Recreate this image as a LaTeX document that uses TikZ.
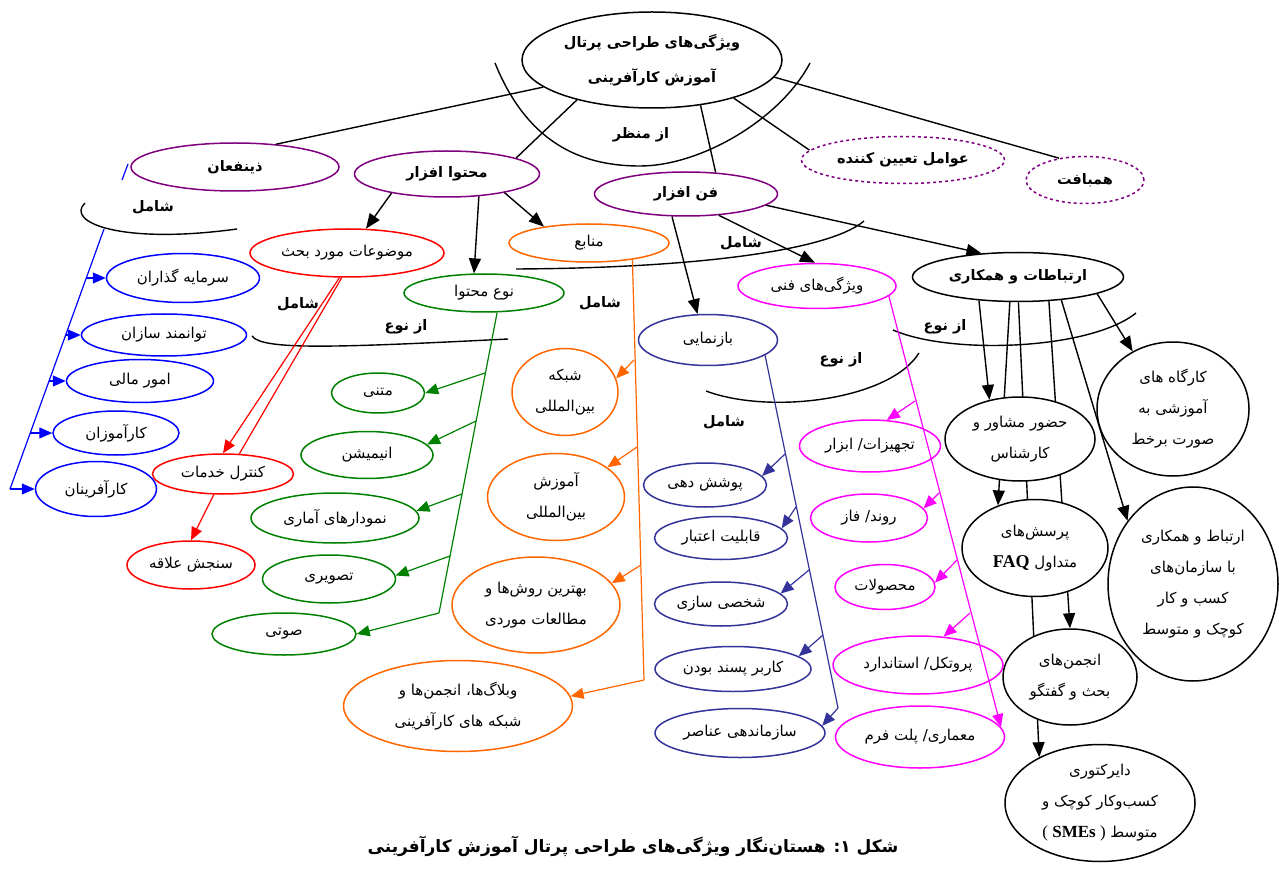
\documentclass[tikz,border=0pt]{standalone}
\usepackage{fontspec}
\setmainfont{Liberation Serif}
\newfontfamily\fafont[Script=Arabic]{DejaVu Sans}
\TeXXeTstate=1
\usetikzlibrary{arrows.meta,shapes.geometric,backgrounds}
\definecolor{purp}{HTML}{800080}
\definecolor{blu}{HTML}{0000FF}
\definecolor{rd}{HTML}{FF0000}
\definecolor{grn}{HTML}{008000}
\definecolor{orng}{HTML}{FF6600}
\definecolor{navy}{HTML}{333399}
\definecolor{mgnt}{HTML}{FF00FF}
\newcommand{\fa}[1]{{\fafont\beginR #1\endR}}
\begin{document}
\begin{tikzpicture}[x=1pt,y=-1pt]
        \tikzset{
            netnode/.style={ellipse,draw=black,line width=1.5pt,fill=white,inner sep=0pt,align=center,font=\fontsize{15}{31}\selectfont},
            boldnode/.style={netnode,font=\bfseries\fontsize{14.5}{35}\selectfont},
            tag/.style={inner sep=1pt,font=\bfseries\fontsize{14.5}{17}\selectfont},
            link/.style={line width=1.4pt},
            bigarrow/.style={link,-{Triangle[length=15pt,width=12pt]}},
            spine/.style={line width=1.2pt},
            smallarrow/.style={spine,-{Triangle[length=13pt,width=11pt]}},
        }
        \useasboundingbox (0,0) rectangle (1279,882);

        \node[boldnode,minimum width=260pt,minimum height=96pt] (root) at (652,60) {\fa{ویژگی‌های طراحی پرتال}\\\fa{آموزش کارآفرینی}};
        \node[boldnode,draw=purp,minimum width=208pt,minimum height=48pt] (zin) at (235,167) {\fa{ذینفعان}};
        \node[boldnode,draw=purp,minimum width=185pt,minimum height=46pt] (moh) at (447,174) {\fa{محتوا افزار}};
        \node[boldnode,draw=purp,minimum width=183pt,minimum height=44pt] (fan) at (686,194) {\fa{فن افزار}};
        \node[boldnode,draw=purp,dashed,minimum width=203pt,minimum height=47pt] (ava) at (903,160) {\fa{عوامل تعیین کننده}};
        \node[boldnode,draw=purp,dashed,minimum width=118pt,minimum height=47pt] (ham) at (1085,180) {\fa{همبافت}};

        \node[netnode,draw=blu,minimum width=153pt,minimum height=49pt] (sar) at (183,278) {\fa{سرمایه گذاران}};
        \node[netnode,draw=blu,minimum width=165pt,minimum height=42pt] (tav) at (164,335) {\fa{توانمند سازان}};
        \node[netnode,draw=blu,minimum width=147pt,minimum height=43pt] (omur) at (140,381) {\fa{امور مالی}};
        \node[netnode,draw=blu,minimum width=126pt,minimum height=44pt] (karamuz) at (116,433) {\fa{کارآموزان}};
        \node[netnode,draw=blu,minimum width=121pt,minimum height=55pt] (karafarin) at (96,489) {\fa{کارآفرینان}};

        \node[netnode,draw=rd,minimum width=194pt,minimum height=48pt] (mowzu) at (347,253) {\fa{موضوعات مورد بحث}};
        \node[netnode,draw=rd,minimum width=141pt,minimum height=40pt] (kontrol) at (223,474) {\fa{کنترل خدمات}};
        \node[netnode,draw=rd,minimum width=128pt,minimum height=48pt] (sanjesh) at (191,565) {\fa{سنجش علاقه}};

        \node[netnode,draw=grn,minimum width=160pt,minimum height=38pt] (now) at (484,293) {\fa{نوع محتوا}};
        \node[netnode,draw=grn,minimum width=93pt,minimum height=40pt] (matni) at (378,393) {\fa{متنی}};
        \node[netnode,draw=grn,minimum width=132pt,minimum height=47pt] (anim) at (367,455) {\fa{انیمیشن}};
        \node[netnode,draw=grn,minimum width=168pt,minimum height=50pt] (nemudar) at (335,518) {\fa{نمودارهای آماری}};
        \node[netnode,draw=grn,minimum width=133pt,minimum height=48pt] (tasviri) at (329,579) {\fa{تصویری}};
        \node[netnode,draw=grn,minimum width=144pt,minimum height=42pt] (souti) at (284,634) {\fa{صوتی}};

        \node[netnode,draw=orng,minimum width=160pt,minimum height=38pt] (manabe) at (589,243) {\fa{منابع}};
        \node[netnode,draw=orng,minimum width=106pt,minimum height=87pt] (shabake) at (565,392) {\fa{شبکه}\\\fa{بین‌المللی}};
        \node[netnode,draw=orng,minimum width=137pt,minimum height=87pt] (amuzesh) at (556,497) {\fa{آموزش}\\\fa{بین‌المللی}};
        \node[netnode,draw=orng,minimum width=168pt,minimum height=96pt] (behtarin) at (536,605) {\fa{بهترین روش‌ها و}\\\fa{مطالعات موردی}};
        \node[netnode,draw=orng,minimum width=229pt,minimum height=91pt] (veblag) at (458,706) {\fa{وبلاگ‌ها\kern0pt، انجمن‌ها و}\\\fa{شبکه های کارآفرینی}};

        \node[netnode,draw=navy,minimum width=139pt,minimum height=51pt] (baz) at (708,340) {\fa{بازنمایی}};
        \node[netnode,draw=navy,minimum width=123pt,minimum height=44pt] (pushesh) at (705,485) {\fa{پوشش دهی}};
        \node[netnode,draw=navy,minimum width=133pt,minimum height=43pt] (ghabel) at (721,538) {\fa{قابلیت اعتبار}};
        \node[netnode,draw=navy,minimum width=133pt,minimum height=44pt] (shakhsi) at (721,604) {\fa{شخصی سازی}};
        \node[netnode,draw=navy,minimum width=156pt,minimum height=45pt] (karbar) at (733,669) {\fa{کاربر پسند بودن}};
        \node[netnode,draw=navy,minimum width=170pt,minimum height=49pt] (sazman) at (740,733) {\fa{سازماندهی عناصر}};

        \node[netnode,draw=mgnt,minimum width=158pt,minimum height=45pt] (vizhegi) at (817,286) {\fa{ویژگی‌های فنی}};
        \node[netnode,draw=mgnt,minimum width=141pt,minimum height=52pt] (tajhiz) at (870,446) {\fa{تجهیزات\kern0pt/ ابزار}};
        \node[netnode,draw=mgnt,minimum width=117pt,minimum height=48pt] (ravand) at (869,518) {\fa{روند\kern0pt/ فاز}};
        \node[netnode,draw=mgnt,minimum width=100pt,minimum height=45pt] (mahsul) at (885,587) {\fa{محصولات}};
        \node[netnode,draw=mgnt,minimum width=170pt,minimum height=58pt] (protokol) at (918,665) {\fa{پروتکل\kern0pt/ استاندارد}};
        \node[netnode,draw=mgnt,minimum width=169pt,minimum height=62pt] (memari) at (920,737) {\fa{معماری\kern0pt/ پلت فرم}};

        \node[boldnode,minimum width=211pt,minimum height=49pt] (ert) at (1018,277) {\fa{ارتباطات و همکاری}};
        \node[netnode,minimum width=150pt,minimum height=84pt] (hozur) at (1020,439) {\fa{حضور مشاور و}\\\fa{کارشناس}};
        \node[netnode,minimum width=146pt,minimum height=97pt] (porsesh) at (1035,548) {\fa{پرسش‌های}\\\fa{متداول \beginL{\rmfamily\bfseries\fontsize{18}{31}\selectfont FAQ}\endL}};
        \node[netnode,minimum width=134pt,minimum height=96pt] (anjoman) at (1070,677) {\fa{انجمن‌های}\\\fa{بحث و گفتگو}};
        \node[netnode,minimum width=190pt,minimum height=117pt] (dir) at (1100,803) {\fa{دایرکتوری}\\\fa{کسب‌وکار کوچک و}\\\fa{متوسط \beginL{\rmfamily\fontsize{17}{31}\selectfont ( {\bfseries SMEs} )}\endL}};
        \node[netnode,minimum width=152pt,minimum height=134pt] (kargah) at (1173,409) {\fa{کارگاه های}\\\fa{آموزشی به}\\\fa{صورت برخط}};
        \node[netnode,minimum width=170pt,minimum height=194pt] (ertebat) at (1193,584) {\fa{ارتباط و همکاری}\\\fa{با سازمان‌های}\\\fa{کسب و کار}\\\fa{کوچک و متوسط}};

        \node[tag] (azmanzar) at (641,135) {\fa{از منظر}};
        \node[tag] (shamel1) at (153,207) {\fa{شامل}};
        \node[tag] (shamel2) at (298,304) {\fa{شامل}};
        \node[tag] (aznoe1) at (406,327) {\fa{از نوع}};
        \node[tag] (shamel3) at (600,303) {\fa{شامل}};
        \node[tag] (shamel4) at (741,243) {\fa{شامل}};
        \node[tag] (aznoe2) at (841,360) {\fa{از نوع}};
        \node[tag] (shamel5) at (724,422) {\fa{شامل}};
        \node[tag] (aznoe3) at (945,327) {\fa{از نوع}};
        \node[tag,font=\bfseries\fontsize{17}{20}\selectfont] (caption) at (633,846) {\fa{شکل ۱\kern0pt: هستان‌نگار ویژگی‌های طراحی پرتال آموزش کارآفرینی}};

        \draw[link] (495,63) .. controls (530,150) and (590,166) .. (640,166) .. controls (700,166) and (780,120) .. (810,63);
        \draw[link] (85,203) .. controls (65,222) and (120,245) .. (237,229);
        \draw[link] (252,336) .. controls (262,350) and (330,348) .. (508,339);
        \draw[link] (516,269) .. controls (700,268) and (830,250) .. (864,221);
        \draw[link] (706,391) .. controls (770,415) and (890,400) .. (919,353);
        \draw[link] (893,330) .. controls (950,355) and (1090,350) .. (1136,313);

        \draw[link] (root.194) -- (zin.29);
        \draw[link] (root.208) -- (moh.13);
        \draw[link] (root.317) -- (fan.36);
        \draw[link] (root.335) -- (ava.174);
        \draw[link] (root.352) -- (ham.140);

        \draw[bigarrow] (moh.199) -- (mowzu.52);
        \draw[bigarrow] (moh.325) -- (now.117);
        \draw[bigarrow] (moh.342) -- (manabe.160);
        \draw[bigarrow] (fan.238) -- (baz.112);
        \draw[bigarrow] (fan.327) -- (vizhegi.95);
        \draw[bigarrow] (fan.352) -- (ert.147);

        \coordinate (btop) at (128,164);
        \coordinate (btopb) at (122,180);
        \coordinate (bsp) at (104,229);
        \coordinate (bl1) at (86,278);
        \coordinate (bl2) at (66,335);
        \coordinate (bl3) at (49,381);
        \coordinate (bl4) at (30,433);
        \coordinate (bl5) at (10,489);
        \draw[spine,blu] (btop) -- (btopb);
        \draw[spine,blu] (bsp) -- (bl5);
        \draw[smallarrow,blu] (bl1) -- (sar.west);
        \draw[smallarrow,blu] (bl2) -- (tav.west);
        \draw[smallarrow,blu] (bl3) -- (omur.west);
        \draw[smallarrow,blu] (bl4) -- (karamuz.west);
        \draw[smallarrow,blu] (bl5) -- (karafarin.west);

        \draw[smallarrow,rd] (mowzu.253) -- (kontrol.north);
        \draw[spine,rd] (mowzu.258) -- (kontrol.51);
        \draw[smallarrow,rd] (kontrol.246) -- (sanjesh.north);

        \coordinate (g1) at (485,373);
        \coordinate (g2) at (476,421);
        \coordinate (g3) at (462,494);
        \coordinate (g4) at (450,556);
        \coordinate (g5) at (439,613);
        \draw[spine,grn] (now.304) -- (g5);
        \draw[smallarrow,grn] (g1) -- (matni.east);
        \draw[smallarrow,grn] (g2) -- (anim.10);
        \draw[smallarrow,grn] (g3) -- (nemudar.5);
        \draw[smallarrow,grn] (g4) -- (tasviri.3);
        \draw[smallarrow,grn] (g5) -- (souti.east);

        \coordinate (o1) at (634,360);
        \coordinate (o2) at (637,447);
        \coordinate (o3) at (641,565);
        \coordinate (o4) at (644,680);
        \draw[spine,orng] (manabe.339) -- (o4);
        \draw[smallarrow,orng] (o1) -- (shabake.15);
        \draw[smallarrow,orng] (o2) -- (amuzesh.30);
        \draw[smallarrow,orng] (o3) -- (behtarin.16);
        \draw[smallarrow,orng] (o4) -- (veblag.5);

        \coordinate (n1) at (785,454);
        \coordinate (n2) at (796,507);
        \coordinate (n3) at (809,570);
        \coordinate (n4) at (823,635);
        \coordinate (n5) at (838,708);
        \draw[spine,navy] (baz.345) -- (n5);
        \draw[smallarrow,navy] (n1) -- (pushesh.9);
        \draw[smallarrow,navy] (n2) -- (ghabel.9);
        \draw[smallarrow,navy] (n3) -- (shakhsi.10);
        \draw[smallarrow,navy] (n4) -- (karbar.11);
        \draw[smallarrow,navy] (n5) -- (sazman.5);

        \coordinate (m1) at (915,401);
        \coordinate (m2) at (939,493);
        \coordinate (m3) at (957,560);
        \coordinate (m4) at (970,613);
        \draw[smallarrow,mgnt] (vizhegi.352) -- (memari.7);
        \draw[smallarrow,mgnt] (m1) -- (tajhiz.57);
        \draw[smallarrow,mgnt] (m2) -- (ravand.10);
        \draw[smallarrow,mgnt] (m3) -- (mahsul.5);
        \draw[smallarrow,mgnt] (m4) -- (protokol.48);

        \begin{scope}[on background layer]
            \draw[bigarrow] (ert.211) -- (hozur.128);
            \draw[bigarrow] (ert.252) -- (porsesh.131);
            \draw[bigarrow] (ert.322) -- (anjoman.north);
            \draw[bigarrow] (ert.271) -- (dir.143);
            \draw[bigarrow] (ert.332) -- (ertebat.136);
            \draw[bigarrow] (ert.348) -- (kargah.125);
        \end{scope}
    \end{tikzpicture}
\end{document}
